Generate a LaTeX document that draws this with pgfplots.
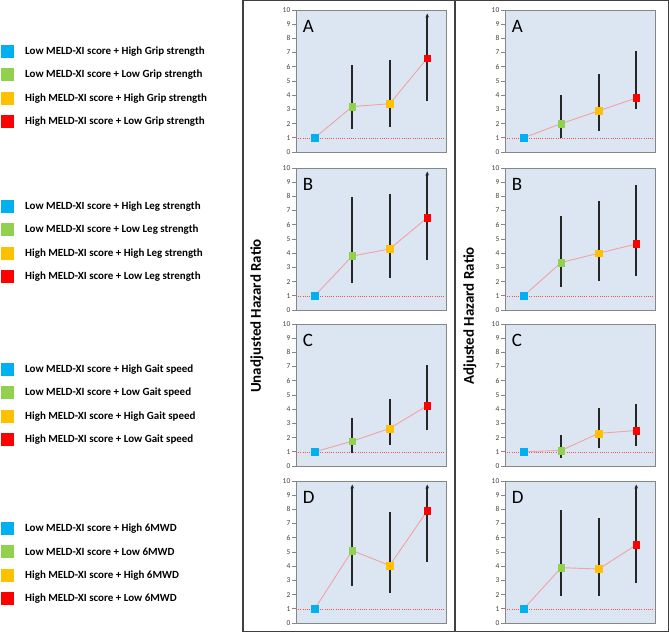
\documentclass[border=0pt]{standalone}
\usepackage{fontspec}
\setmainfont{Carlito}
\usepackage{pgfplots}
\pgfplotsset{compat=1.18}
\usetikzlibrary{arrows.meta}
\definecolor{cblue}{HTML}{00B0F0}
\definecolor{cgreen}{HTML}{92D050}
\definecolor{corange}{HTML}{FFC000}
\definecolor{cred}{HTML}{FF0000}
\definecolor{bgblue}{HTML}{DCE6F2}
\definecolor{axgray}{HTML}{868686}
\definecolor{tickgray}{HTML}{404040}
\definecolor{pinkl}{HTML}{EFA3A3}
\definecolor{refred}{HTML}{F05050}
\definecolor{framegray}{HTML}{404040}
\pgfplotsset{
  panel/.style={
    scale only axis, width=150bp, height=142bp, anchor=north west,
    xmin=0.5, xmax=4.5, ymin=0, ymax=10, ytick={0,1,...,10}, xtick=\empty,
    axis background/.style={fill=bgblue},
    axis line style={draw=axgray, line width=0.9bp},
    tick style={draw=axgray, line width=0.6bp}, tick align=outside, ytick pos=left,
    major tick length=4bp,
    yticklabel style={font=\fontsize{7.5}{7.5}\selectfont, text=tickgray, inner sep=1.5bp},
    /pgf/number format/assume math mode=true,
  },
  cibar/.style={draw=black!85, line width=1.7bp, forget plot},
  ciarr/.style={draw=black!85, line width=1.7bp, -{Stealth[length=4bp,width=3.6bp]}, forget plot},
  refl/.style={draw=refred, line width=0.45bp, dash pattern=on 1bp off 1.2bp},
  pinkline/.style={draw=pinkl, line width=0.9bp},
  mk/.style={only marks, mark=square*, mark size=3.4bp},
}
\newcommand{\ci}[3]{\addplot[cibar] coordinates {(#1,#2) (#1,#3)};}
\newcommand{\ciarrow}[3]{\addplot[ciarr] coordinates {(#1,#2) (#1,#3)};}
\newcommand{\pts}[4]{%
  \addplot[pinkline] coordinates {(1,#1) (2,#2) (3,#3) (4,#4)};
  \addplot[mk, draw=cblue, fill=cblue] coordinates {(1,#1)};
  \addplot[mk, draw=cgreen, fill=cgreen] coordinates {(2,#2)};
  \addplot[mk, draw=corange, fill=corange] coordinates {(3,#3)};
  \addplot[mk, draw=cred, fill=cred] coordinates {(4,#4)};
}
\newcommand{\refline}{\addplot[refl] coordinates {(0.5,1) (4.5,1)};}
\newcommand{\plabel}[1]{\node[anchor=base west, inner sep=0pt, font=\fontsize{19}{19}\selectfont] at (rel axis cs:0.045,0.845) {#1};}
\newcommand{\legrow}[3]{% y(px), color, text
  \fill[#2] (1bp,{(632-#1-6.5)*1bp}) rectangle (14bp,{(632-#1+6.5)*1bp});
  \node[anchor=west, inner sep=0pt, font=\bfseries\fontsize{11}{11}\selectfont] at (25bp,{(632-#1)*1bp}) {#3};
}
\begin{document}
\begin{tikzpicture}
\useasboundingbox (0,0) rectangle (669bp,632bp);
% frame
\draw[framegray, line width=1.2bp] (243bp,0.6bp) rectangle (668.4bp,631.4bp);
\draw[framegray, line width=1.2bp] (455bp,0.6bp) -- (455bp,631.4bp);
% y labels
\node[rotate=90, font=\bfseries\fontsize{15}{15}\selectfont] at (257bp,316bp) {Unadjusted Hazard Ratio};
\node[rotate=90, font=\bfseries\fontsize{15}{15}\selectfont] at (470bp,316bp) {Adjusted Hazard Ratio};
% legends
\legrow{51.5}{cblue}{Low MELD-XI score + High Grip strength}
\legrow{75}{cgreen}{Low MELD-XI score + Low Grip strength}
\legrow{98.5}{corange}{High MELD-XI score + High Grip strength}
\legrow{122}{cred}{High MELD-XI score + Low Grip strength}
\legrow{206.5}{cblue}{Low MELD-XI score + High Leg strength}
\legrow{230}{cgreen}{Low MELD-XI score + Low Leg strength}
\legrow{253.5}{corange}{High MELD-XI score + High Leg strength}
\legrow{277}{cred}{High MELD-XI score + Low Leg strength}
\legrow{369.5}{cblue}{Low MELD-XI score + High Gait speed}
\legrow{393}{cgreen}{Low MELD-XI score + Low Gait speed}
\legrow{416.5}{corange}{High MELD-XI score + High Gait speed}
\legrow{440}{cred}{High MELD-XI score + Low Gait speed}
\legrow{528.5}{cblue}{Low MELD-XI score + High 6MWD}
\legrow{552}{cgreen}{Low MELD-XI score + Low 6MWD}
\legrow{575.5}{corange}{High MELD-XI score + High 6MWD}
\legrow{599}{cred}{High MELD-XI score + Low 6MWD}
% ---- Unadjusted ----
\begin{axis}[panel, at={(296bp,622bp)}]
\refline
\ci{2}{1.6}{6.15}\ci{3}{1.75}{6.45}\ciarrow{4}{3.6}{9.75}
\pts{1}{3.2}{3.4}{6.6}
\plabel{A}
\end{axis}
\begin{axis}[panel, at={(296bp,464bp)}]
\refline
\ci{2}{1.9}{7.95}\ci{3}{2.25}{8.2}\ciarrow{4}{3.5}{9.75}
\pts{1}{3.8}{4.3}{6.5}
\plabel{B}
\end{axis}
\begin{axis}[panel, at={(296bp,308bp)}]
\refline
\ci{2}{0.9}{3.35}\ci{3}{1.5}{4.7}\ci{4}{2.5}{7.1}
\pts{1}{1.75}{2.65}{4.25}
\plabel{C}
\end{axis}
\begin{axis}[panel, at={(296bp,151bp)}]
\refline
\ciarrow{2}{2.6}{9.75}\ci{3}{2.1}{7.85}\ciarrow{4}{4.3}{9.75}
\pts{1}{5.1}{4.05}{7.9}
\plabel{D}
\end{axis}
% ---- Adjusted ----
\begin{axis}[panel, at={(505bp,622bp)}]
\refline
\ci{2}{1.0}{4.0}\ci{3}{1.5}{5.5}\ci{4}{3.0}{7.1}
\pts{1}{2.0}{2.9}{3.8}
\plabel{A}
\end{axis}
\begin{axis}[panel, at={(505bp,464bp)}]
\refline
\ci{2}{1.65}{6.65}\ci{3}{2.05}{7.65}\ci{4}{2.4}{8.8}
\pts{1}{3.35}{4.0}{4.65}
\plabel{B}
\end{axis}
\begin{axis}[panel, at={(505bp,308bp)}]
\refline
\ci{2}{0.55}{2.2}\ci{3}{1.25}{4.05}\ci{4}{1.4}{4.35}
\pts{1}{1.1}{2.3}{2.5}
\plabel{C}
\end{axis}
\begin{axis}[panel, at={(505bp,151bp)}]
\refline
\ci{2}{1.9}{7.95}\ci{3}{1.9}{7.4}\ciarrow{4}{2.8}{9.75}
\pts{1}{3.9}{3.8}{5.5}
\plabel{D}
\end{axis}
\end{tikzpicture}
\end{document}
